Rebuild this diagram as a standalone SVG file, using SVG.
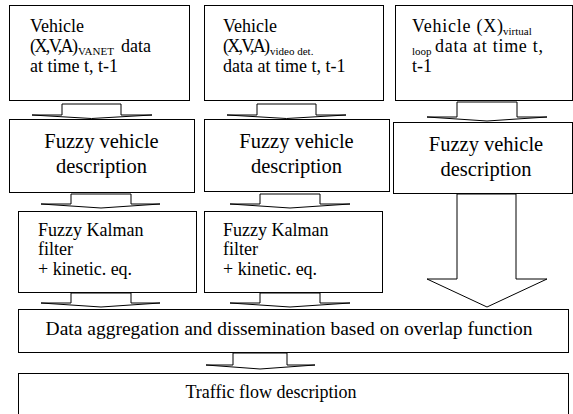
<svg xmlns="http://www.w3.org/2000/svg" width="573" height="414" viewBox="0 0 573 414">
<style>
.box{fill:#fff;stroke:#000;stroke-width:1}
.arr{fill:#fff;stroke:#000;stroke-width:1;stroke-linejoin:miter}
.t{font-size:18px}
.big{font-size:20.5px}
.sub{font-size:11px}
.c{text-anchor:middle}
</style>
<rect width="573" height="414" fill="#fff"/>
<g id="connectors">
<polygon class="arr" points="62,104 121,104 121,115 152,115 91.5,118.5 32,115 62,115"/>
<polygon class="arr" points="257,104 316,104 316,115 346,115 286.5,118.5 227,115 257,115"/>
<polygon class="arr" points="457,102 517,102 517,117 547,117 487,121 427,117 457,117"/>
<polygon class="arr" points="71,194 131,194 131,204 160,204 101,208 41,204 71,204"/>
<polygon class="arr" points="260,194 320,194 320,204 350,204 290,208 230,204 260,204"/>
<polygon class="arr" points="457,194 516,194 516,279 547,279 487,307 427,279 457,279"/>
<polygon class="arr" points="71,293 131,293 131,303 160,303 101,307 41,303 71,303"/>
<polygon class="arr" points="260,293 320,293 320,303 350,303 290,307 230,303 260,303"/>
<polygon class="arr" points="233,353 287,353 287,365 315,365 260,369 206,365 233,365"/>
</g>
<g font-family="'Liberation Serif', 'DejaVu Serif', serif" fill="#000">
<g id="n1">
<rect class="box" x="9.5" y="5.5" width="180" height="95"/>
<text class="t" x="30" y="32">Vehicle</text>
<text class="t" x="30" y="52" textLength="48" lengthAdjust="spacing">(X,V,A)</text>
<text class="sub" font-size="12" x="78" y="55">VANET</text>
<text class="t" x="121" y="52">data</text>
<text class="t" x="30" y="72">at time t, t-1</text>
</g>
<g id="n2">
<rect class="box" x="204.5" y="5.5" width="179" height="95"/>
<text class="t" x="223" y="32">Vehicle</text>
<text class="t" x="223" y="52" textLength="47" lengthAdjust="spacing">(X,V,A)</text>
<text class="sub" x="270" y="55">video det.</text>
<text class="t" x="223" y="72">data at time t, t-1</text>
</g>
<g id="n3">
<rect class="box" x="395.5" y="5.5" width="177" height="95"/>
<text class="t" x="412" y="32" textLength="91" lengthAdjust="spacing">Vehicle (X)</text>
<text class="sub" x="503" y="35">virtual</text>
<text class="sub" x="412" y="55">loop</text>
<text class="t" x="435" y="52" textLength="108" lengthAdjust="spacing">data at time t,</text>
<text class="t" x="412" y="72">t-1</text>
</g>
<g id="n4">
<rect class="box" x="9.5" y="119.5" width="185" height="73"/>
<text class="big c" x="101.5" y="148">Fuzzy vehicle</text>
<text class="big c" x="101.5" y="173">description</text>
</g>
<g id="n5">
<rect class="box" x="204.5" y="119.5" width="185" height="72"/>
<text class="big c" x="296.5" y="148">Fuzzy vehicle</text>
<text class="big c" x="296.5" y="173">description</text>
</g>
<g id="n6">
<rect class="box" x="393.5" y="122.5" width="179" height="71"/>
<text class="big c" x="486" y="151">Fuzzy vehicle</text>
<text class="big c" x="486" y="176">description</text>
</g>
<g id="n7">
<rect class="box" x="18.5" y="211.5" width="178" height="81"/>
<text class="t" x="38" y="236">Fuzzy Kalman</text>
<text class="t" x="38" y="255">filter</text>
<text class="t" x="38" y="275">+ kinetic. eq.</text>
</g>
<g id="n8">
<rect class="box" x="204.5" y="211.5" width="178" height="81"/>
<text class="t" x="223" y="236">Fuzzy Kalman</text>
<text class="t" x="223" y="255">filter</text>
<text class="t" x="223" y="275">+ kinetic. eq.</text>
</g>
<g id="n9">
<rect class="box" x="18.5" y="309.5" width="550" height="43"/>
<text class="c" font-size="19.5" x="289" y="335">Data aggregation and dissemination based on overlap function</text>
</g>
<g id="n10">
<rect class="box" x="18.5" y="373.5" width="550" height="45"/>
<text class="c" font-size="18" x="271" y="398">Traffic flow description</text>
</g>
</g>
</svg>
